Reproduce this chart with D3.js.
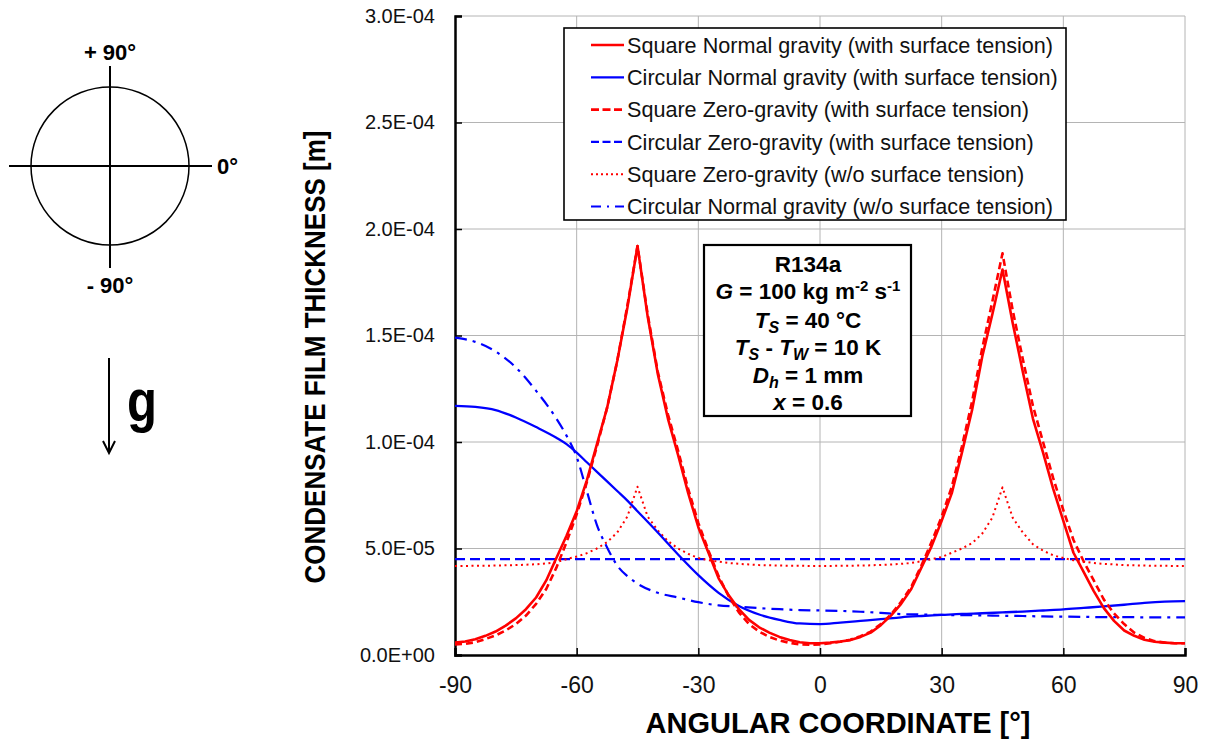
<!DOCTYPE html>
<html><head><meta charset="utf-8">
<script src="https://cdn.jsdelivr.net/npm/d3@7"></script>
<style>body{margin:0;background:#fff}svg{font-family:"Liberation Sans",Arial,sans-serif}</style>
</head><body><svg id="c" width="1207" height="744"></svg>
<script>
// ---------------- DATA (thickness values in units of 1e-5 m) ----------------
const angleFine = [-90,-87.5,-85,-82.5,-80,-77.5,-75,-72.5,-70,-67.5,-65,-62.5,-60,-57.5,-55,-52.5,-50,-47.5,-45,-42.5,-40,-37.5,-35,-32.5,-30,-27.5,-25,-22.5,-20,-17.5,-15,-12.5,-10,-7.5,-5,-2.5,0,2.5,5,7.5,10,12.5,15,17.5,20,22.5,25,27.5,30,32.5,35,37.5,40,42.5,45,47.5,50,52.5,55,57.5,60,62.5,65,67.5,70,72.5,75,77.5,80,82.5,85,87.5,90];
const squareNormal = [0.58,0.63,0.74,0.9,1.1,1.38,1.72,2.15,2.7,3.5,4.55,5.6,6.75,8.2,9.9,11.6,13.8,16.3,19.2,15.9,13.2,11.1,9.4,7.6,6.0,4.8,3.6,2.8,2.15,1.65,1.3,1.05,0.85,0.7,0.6,0.55,0.55,0.58,0.63,0.7,0.85,1.05,1.4,1.85,2.4,3.1,4.1,5.1,6.3,7.6,9.5,11.5,14.0,16.0,18.1,15.6,13.3,11.1,9.5,7.8,6.3,4.8,3.9,3.0,2.2,1.6,1.15,0.9,0.72,0.62,0.58,0.55,0.55];
const squareZero = [0.5,0.52,0.6,0.75,0.92,1.15,1.45,1.85,2.4,3.1,4.1,5.3,6.6,8.1,9.8,11.6,13.8,16.4,19.2,16.0,13.3,11.3,9.6,7.8,6.2,4.9,3.7,2.75,2.0,1.45,1.1,0.85,0.68,0.57,0.5,0.48,0.5,0.55,0.62,0.72,0.88,1.1,1.45,1.9,2.5,3.2,4.2,5.3,6.5,7.9,9.8,11.9,14.4,16.6,18.86,16.2,13.9,11.7,10.0,8.3,6.8,5.4,4.4,3.5,2.6,1.95,1.45,1.05,0.8,0.65,0.58,0.55,0.55];
const squareZeroNoST = [4.18,4.18,4.19,4.19,4.2,4.21,4.22,4.24,4.26,4.3,4.36,4.5,4.62,4.78,5.0,5.3,5.75,6.5,7.9,6.5,5.85,5.35,5.0,4.75,4.55,4.45,4.38,4.32,4.28,4.25,4.22,4.21,4.2,4.19,4.19,4.18,4.18,4.18,4.19,4.19,4.2,4.21,4.23,4.25,4.28,4.32,4.4,4.5,4.6,4.8,5.0,5.25,5.7,6.45,7.87,6.45,5.75,5.2,4.9,4.68,4.55,4.45,4.38,4.32,4.28,4.25,4.22,4.21,4.2,4.19,4.19,4.18,4.18];
const angleCirc = [-90,-85,-80,-75,-70,-65,-62.5,-60,-57.5,-55,-52.5,-50,-47.5,-45,-40,-35,-30,-25,-20,-15,-10,-5,0,5,10,15,20,25,30,35,40,45,50,55,60,65,70,75,80,85,90];
const circNormal = [11.7,11.65,11.5,11.15,10.7,10.2,9.9,9.5,9.05,8.6,8.15,7.7,7.25,6.75,5.75,4.72,3.75,2.92,2.3,1.9,1.65,1.48,1.45,1.52,1.6,1.68,1.77,1.83,1.88,1.93,1.96,2.0,2.04,2.09,2.14,2.21,2.28,2.36,2.45,2.51,2.53];
const circNormalNoST = [14.9,14.7,14.25,13.5,12.4,11.1,10.3,9.3,7.7,6.1,5.05,4.2,3.7,3.35,2.92,2.7,2.48,2.33,2.27,2.2,2.15,2.11,2.09,2.07,2.03,1.98,1.92,1.9,1.88,1.87,1.86,1.84,1.83,1.81,1.8,1.79,1.78,1.78,1.77,1.77,1.77];
const angleFlat = [-90, 90];
const circZero = [4.5, 4.5];

const xTicks = [-90,-60,-30,0,30,60,90];
const xTickLabels = ["-90","-60","-30","0","30","60","90"];
const yTicks = [0,5,10,15,20,25,30];
const yTickLabels = ["0.0E+00","5.0E-05","1.0E-04","1.5E-04","2.0E-04","2.5E-04","3.0E-04"];
const legendLabels = ["Square Normal gravity (with surface tension)","Circular Normal gravity (with surface tension)","Square Zero-gravity (with surface tension)","Circular Zero-gravity (with surface tension)","Square Zero-gravity (w/o surface tension)","Circular Normal gravity (w/o surface tension)"];

// ---------------- DRAWING ----------------
const svg = d3.select("#c");
const L = 455, R = 1185, T = 16, B = 655;
const x = d3.scaleLinear().domain([-90, 90]).range([L, R]);
const y = d3.scaleLinear().domain([0, 30]).range([B, T]);

// grid
const grid = svg.append("g").attr("stroke", "#b4b4b4").attr("stroke-width", 1);
yTicks.forEach(v => { if (v > 0) grid.append("line").attr("x1", L).attr("x2", R).attr("y1", y(v)).attr("y2", y(v)); });
xTicks.forEach(v => { if (v > -90) grid.append("line").attr("y1", T).attr("y2", B).attr("x1", x(v)).attr("x2", x(v)); });

// axes via d3 axis (inner ticks)
const yAxis = d3.axisLeft(y).tickValues(yTicks).tickSize(-7).tickFormat((d, i) => yTickLabels[i]).tickPadding(20);
const gy = svg.append("g").attr("transform", `translate(${L},0)`).call(yAxis);
gy.select(".domain").attr("stroke", "#000").attr("stroke-width", 2.5);
gy.selectAll(".tick line").attr("stroke", "#000").attr("stroke-width", 1.5);
gy.selectAll(".tick text").attr("font-size", 20).attr("fill", "#111").attr("font-family", "Liberation Sans, Arial, sans-serif");

const xAxis = d3.axisBottom(x).tickValues(xTicks).tickSize(-7).tickFormat((d, i) => xTickLabels[i]).tickPadding(22);
const gx = svg.append("g").attr("transform", `translate(0,${B})`).call(xAxis);
gx.select(".domain").attr("stroke", "#000").attr("stroke-width", 2.5);
gx.selectAll(".tick line").attr("stroke", "#000").attr("stroke-width", 1.5);
gx.selectAll(".tick text").attr("font-size", 23).attr("fill", "#111").attr("font-family", "Liberation Sans, Arial, sans-serif");

// titles
svg.append("text").attr("x", 838).attr("y", 733).attr("text-anchor", "middle")
  .attr("font-size", 30).attr("font-weight", "bold").attr("textLength", 385).attr("lengthAdjust", "spacingAndGlyphs")
  .text("ANGULAR COORDINATE [°]");
svg.append("text").attr("transform", "translate(325,357) rotate(-90)").attr("text-anchor", "middle")
  .attr("font-size", 30).attr("font-weight", "bold").attr("textLength", 453).attr("lengthAdjust", "spacingAndGlyphs")
  .text("CONDENSATE FILM THICKNESS [m]");

// series
svg.append("clipPath").attr("id", "clip").append("rect").attr("x", L).attr("y", T - 2).attr("width", R - L).attr("height", B - T + 2);
const series = [
  {a: angleFine, v: squareNormal, color: "#ff0000", w: 2.6, dash: null, curve: d3.curveLinear},
  {a: angleCirc, v: circNormal, color: "#0000ff", w: 2.3, dash: null, curve: d3.curveMonotoneX},
  {a: angleFine, v: squareZero, color: "#ff0000", w: 2.6, dash: "7,4", curve: d3.curveLinear},
  {a: angleFlat, v: circZero, color: "#0000ff", w: 2.2, dash: "10,5", curve: d3.curveLinear},
  {a: angleFine, v: squareZeroNoST, color: "#ff0000", w: 2, dash: "2,3.5", curve: d3.curveLinear},
  {a: angleCirc, v: circNormalNoST, color: "#0000ff", w: 2.2, dash: "12,6,3,6", curve: d3.curveMonotoneX}
];
const plot = svg.append("g").attr("clip-path", "url(#clip)");
const drawOrder = [3, 4, 5, 1, 2, 0];
drawOrder.forEach(k => {
  const s = series[k];
  const pts = d3.zip(s.a, s.v);
  plot.append("path").datum(pts)
    .attr("fill", "none").attr("stroke", s.color).attr("stroke-width", s.w)
    .attr("stroke-dasharray", s.dash).attr("stroke-linejoin", "round")
    .attr("d", d3.line().x(d => x(d[0])).y(d => y(d[1])).curve(s.curve));
});

// legend
const lg = svg.append("g");
lg.append("rect").attr("x", 564).attr("y", 28).attr("width", 502).attr("height", 192)
  .attr("fill", "#fff").attr("stroke", "#000").attr("stroke-width", 1.6);
const legDash = [null, null, "8,3.5", "8,3.5", "2,3", "10,6,2,6"];
legendLabels.forEach((t, i) => {
  const yy = 45 + i * 32.3;
  const s = series[i];
  lg.append("line").attr("x1", 591).attr("x2", 624).attr("y1", yy).attr("y2", yy)
    .attr("stroke", s.color).attr("stroke-width", s.w).attr("stroke-dasharray", legDash[i]);
  lg.append("text").attr("x", 627).attr("y", yy).attr("dy", "0.36em").attr("font-size", 21.6).attr("fill", "#111").text(t);
});

// info box
const ib = svg.append("g").attr("font-weight", "bold").attr("font-size", 22.5).attr("text-anchor", "middle");
ib.append("rect").attr("x", 704).attr("y", 245).attr("width", 207).attr("height", 171)
  .attr("fill", "#fff").attr("stroke", "#000").attr("stroke-width", 2.2);
const cx = 808;
ib.append("text").attr("x", cx).attr("y", 272).text("R134a");
let t2 = ib.append("text").attr("x", cx).attr("y", 299);
t2.append("tspan").attr("font-style", "italic").text("G");
t2.append("tspan").text(" = 100 kg m");
t2.append("tspan").attr("font-size", 15).attr("dy", -8).text("-2");
t2.append("tspan").attr("dy", 8).text(" s");
t2.append("tspan").attr("font-size", 15).attr("dy", -8).text("-1");
let t3 = ib.append("text").attr("x", cx).attr("y", 328);
t3.append("tspan").attr("font-style", "italic").text("T");
t3.append("tspan").attr("font-style", "italic").attr("font-size", 16).attr("dy", 5).text("S");
t3.append("tspan").attr("dy", -5).text(" = 40 °C");
let t4 = ib.append("text").attr("x", cx).attr("y", 355);
t4.append("tspan").attr("font-style", "italic").text("T");
t4.append("tspan").attr("font-style", "italic").attr("font-size", 16).attr("dy", 5).text("S");
t4.append("tspan").attr("dy", -5).text(" - ");
t4.append("tspan").attr("font-style", "italic").text("T");
t4.append("tspan").attr("font-style", "italic").attr("font-size", 16).attr("dy", 5).text("W");
t4.append("tspan").attr("dy", -5).text(" = 10 K");
let t5 = ib.append("text").attr("x", cx).attr("y", 383);
t5.append("tspan").attr("font-style", "italic").text("D");
t5.append("tspan").attr("font-style", "italic").attr("font-size", 16).attr("dy", 5).text("h");
t5.append("tspan").attr("dy", -5).text(" = 1 mm");
let t6 = ib.append("text").attr("x", cx).attr("y", 410);
t6.append("tspan").attr("font-style", "italic").text("x");
t6.append("tspan").text(" = 0.6");

// orientation diagram
const dg = svg.append("g");
dg.append("circle").attr("cx", 110).attr("cy", 166).attr("r", 79).attr("fill", "none").attr("stroke", "#000").attr("stroke-width", 1.5);
dg.append("line").attr("x1", 110).attr("x2", 110).attr("y1", 66).attr("y2", 268).attr("stroke", "#000").attr("stroke-width", 2);
dg.append("line").attr("x1", 9).attr("x2", 212).attr("y1", 166).attr("y2", 166).attr("stroke", "#000").attr("stroke-width", 2);
dg.append("text").attr("x", 110).attr("y", 60).attr("text-anchor", "middle").attr("font-size", 22).attr("font-weight", "bold").text("+ 90°");
dg.append("text").attr("x", 217).attr("y", 174).attr("font-size", 22).attr("font-weight", "bold").text("0°");
dg.append("text").attr("x", 110).attr("y", 293).attr("text-anchor", "middle").attr("font-size", 22).attr("font-weight", "bold").text("- 90°");
dg.append("line").attr("x1", 109).attr("x2", 109).attr("y1", 358).attr("y2", 453).attr("stroke", "#000").attr("stroke-width", 2);
dg.append("path").attr("d", "M103,441 L109,453 L115,441").attr("fill", "none").attr("stroke", "#000").attr("stroke-width", 2);
dg.append("text").attr("x", 127).attr("y", 421).attr("font-size", 60).attr("font-weight", "bold").attr("textLength", 30).attr("lengthAdjust", "spacingAndGlyphs").text("g");
</script></body></html>
